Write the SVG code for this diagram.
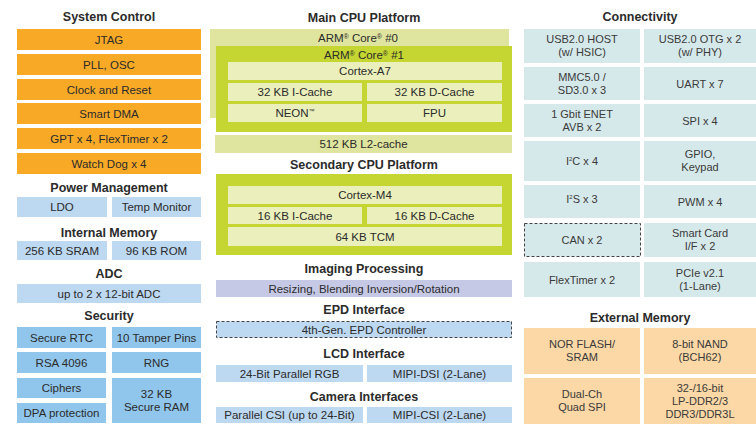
<svg xmlns="http://www.w3.org/2000/svg" width="756" height="433" viewBox="0 0 756 433">
<style>
text{font-family:"Liberation Sans",Arial,sans-serif;fill:#2b2b2b;text-anchor:middle}
.t{font-size:12.5px;font-weight:bold}
.b{font-size:11.5px}
.c{font-size:11px;fill:#3a3a3a}
.or{fill:#f8aa27}
.lb{fill:#bdd8f1}
.sb{fill:#90c6ec}
.c0{fill:#dfe49e}
.c1{fill:#c5d531}
.in{fill:#eaefbb}
.lv{fill:#c6c9e6}
.cn{fill:#d6e9ea}
.em{fill:#fbd8a6}
.dash{stroke:#444;stroke-width:1;stroke-dasharray:3,2}
</style>
<rect width="756" height="433" fill="#ffffff"/>

<!-- System Control -->
<g id="system-control">
<text class="t" x="109" y="21">System Control</text>
<g id="jtag"><rect class="or" x="17" y="29" width="184" height="21"/><text class="b" x="109" y="43.5">JTAG</text></g>
<g id="pll"><rect class="or" x="17" y="54" width="184" height="21"/><text class="b" x="109" y="68.5">PLL, OSC</text></g>
<g id="clock"><rect class="or" x="17" y="79" width="184" height="21"/><text class="b" x="109" y="93.5">Clock and Reset</text></g>
<g id="dma"><rect class="or" x="17" y="103" width="184" height="21"/><text class="b" x="109" y="117.5">Smart DMA</text></g>
<g id="gpt"><rect class="or" x="17" y="128" width="184" height="21"/><text class="b" x="109" y="142.5">GPT x 4, FlexTimer x 2</text></g>
<g id="wdog"><rect class="or" x="17" y="153" width="184" height="21"/><text class="b" x="109" y="167.5">Watch Dog x 4</text></g>
</g>

<g id="power-management">
<text class="t" x="109" y="192">Power Management</text>
<g id="ldo"><rect class="lb" x="17" y="197" width="90" height="20"/><text class="b" x="62" y="211">LDO</text></g>
<g id="temp"><rect class="lb" x="112" y="197" width="89" height="20"/><text class="b" x="156.5" y="211">Temp Monitor</text></g>
</g>

<g id="internal-memory">
<text class="t" x="109" y="237">Internal Memory</text>
<g id="sram"><rect class="lb" x="17" y="241" width="90" height="19"/><text class="b" x="62" y="254.5">256 KB SRAM</text></g>
<g id="rom"><rect class="lb" x="112" y="241" width="89" height="19"/><text class="b" x="156.5" y="254.5">96 KB ROM</text></g>
</g>

<g id="adc">
<text class="t" x="109" y="278">ADC</text>
<g id="adc-box"><rect class="lb" x="17" y="284" width="184" height="19"/><text class="b" x="109" y="297.5">up to 2 x 12-bit ADC</text></g>
</g>

<g id="security">
<text class="t" x="109" y="320">Security</text>
<g id="rtc"><rect class="sb" x="17" y="327" width="89" height="21"/><text class="b" x="61.5" y="341.5">Secure RTC</text></g>
<g id="tamper"><rect class="sb" x="112" y="327" width="89" height="21"/><text class="b" x="156.5" y="341.5">10 Tamper Pins</text></g>
<g id="rsa"><rect class="sb" x="17" y="352" width="89" height="21"/><text class="b" x="61.5" y="366.5">RSA 4096</text></g>
<g id="rng"><rect class="sb" x="112" y="352" width="89" height="21"/><text class="b" x="156.5" y="366.5">RNG</text></g>
<g id="ciphers"><rect class="sb" x="17" y="378" width="89" height="20"/><text class="b" x="61.5" y="392">Ciphers</text></g>
<g id="dpa"><rect class="sb" x="17" y="403" width="89" height="20"/><text class="b" x="61.5" y="417">DPA protection</text></g>
<g id="secram"><rect class="sb" x="112" y="378" width="89" height="45"/><text class="b" x="156.5" y="397.5">32 KB</text><text class="b" x="156.5" y="411">Secure RAM</text></g>
</g>

<!-- Main CPU -->
<g id="main-cpu">
<text class="t" x="364" y="22">Main CPU Platform</text>
<g id="core0"><rect class="c0" x="210" y="29" width="299" height="89"/><text class="b" x="358" y="41.5">ARM<tspan font-size="7" dy="-3">®</tspan><tspan dy="3"> Core</tspan><tspan font-size="7" dy="-3">®</tspan><tspan dy="3"> #0</tspan></text></g>
<g id="core1"><rect class="c1" x="216" y="46" width="296" height="86"/><text class="b" x="364" y="58.5">ARM<tspan font-size="7" dy="-3">®</tspan><tspan dy="3"> Core</tspan><tspan font-size="7" dy="-3">®</tspan><tspan dy="3"> #1</tspan></text></g>
<g id="a7"><rect class="in" x="228" y="62" width="274" height="18"/><text class="b" x="365" y="75">Cortex-A7</text></g>
<g id="a7-icache"><rect class="in" x="228" y="83" width="134" height="18"/><text class="b" x="295" y="96">32 KB I-Cache</text></g>
<g id="a7-dcache"><rect class="in" x="367" y="83" width="135" height="18"/><text class="b" x="434.5" y="96">32 KB D-Cache</text></g>
<g id="neon"><rect class="in" x="228" y="104" width="134" height="18"/><text class="b" x="295" y="117">NEON<tspan font-size="6" dy="-4">™</tspan></text></g>
<g id="fpu"><rect class="in" x="367" y="104" width="135" height="18"/><text class="b" x="434.5" y="117">FPU</text></g>
<g id="l2"><rect class="c0" x="215" y="135" width="297" height="18"/><text class="b" x="363.5" y="148">512 KB L2-cache</text></g>
</g>

<g id="secondary-cpu">
<text class="t" x="364" y="169">Secondary CPU Platform</text>
<rect class="c1" x="216" y="174" width="296" height="81"/>
<g id="m4"><rect class="in" x="228" y="186" width="274" height="18"/><text class="b" x="365" y="199">Cortex-M4</text></g>
<g id="m4-icache"><rect class="in" x="228" y="207" width="134" height="17"/><text class="b" x="295" y="219.5">16 KB I-Cache</text></g>
<g id="m4-dcache"><rect class="in" x="367" y="207" width="135" height="17"/><text class="b" x="434.5" y="219.5">16 KB D-Cache</text></g>
<g id="tcm"><rect class="in" x="228" y="227" width="274" height="19"/><text class="b" x="365" y="240.5">64 KB TCM</text></g>
</g>

<g id="imaging">
<text class="t" x="364" y="273">Imaging Processing</text>
<rect class="lv" x="216" y="280" width="296" height="17"/><text class="b" x="364" y="292.5">Resizing, Blending Inversion/Rotation</text>
</g>

<g id="epd">
<text class="t" x="364" y="314">EPD Interface</text>
<rect class="lb dash" x="216.5" y="321.5" width="295" height="16"/><text class="b" x="364" y="333.5">4th-Gen. EPD Controller</text>
</g>

<g id="lcd">
<text class="t" x="364" y="358">LCD Interface</text>
<g id="rgb"><rect class="lb" x="216" y="365" width="147" height="17"/><text class="b" x="289.5" y="377.5">24-Bit Parallel RGB</text></g>
<g id="dsi"><rect class="lb" x="367" y="365" width="145" height="17"/><text class="b" x="439.5" y="377.5">MIPI-DSI (2-Lane)</text></g>
</g>

<g id="camera">
<text class="t" x="364" y="401">Camera Interfaces</text>
<g id="pcsi"><rect class="lb" x="216" y="407" width="147" height="16"/><text class="b" x="289.5" y="419">Parallel CSI (up to 24-Bit)</text></g>
<g id="mcsi"><rect class="lb" x="367" y="407" width="145" height="16"/><text class="b" x="439.5" y="419">MIPI-CSI (2-Lane)</text></g>
</g>

<!-- Connectivity -->
<g id="connectivity">
<text class="t" x="640" y="21">Connectivity</text>
<g id="usbhost"><rect class="cn" x="524" y="29" width="116" height="34"/><text class="c" x="582" y="43">USB2.0 HOST</text><text class="c" x="582" y="56">(w/ HSIC)</text></g>
<g id="usbotg"><rect class="cn" x="644" y="29" width="112" height="34"/><text class="c" x="700" y="43">USB2.0 OTG x 2</text><text class="c" x="700" y="56">(w/ PHY)</text></g>
<g id="mmc"><rect class="cn" x="524" y="67" width="116" height="33"/><text class="c" x="582" y="80.5">MMC5.0 /</text><text class="c" x="582" y="93.5">SD3.0 x 3</text></g>
<g id="uart"><rect class="cn" x="644" y="67" width="112" height="33"/><text class="c" x="700" y="87.5">UART x 7</text></g>
<g id="enet"><rect class="cn" x="524" y="104" width="116" height="33"/><text class="c" x="582" y="117.5">1 Gbit ENET</text><text class="c" x="582" y="130.5">AVB x 2</text></g>
<g id="spi"><rect class="cn" x="644" y="104" width="112" height="33"/><text class="c" x="700" y="124.5">SPI x 4</text></g>
<g id="i2c"><rect class="cn" x="524" y="141" width="116" height="40"/><text class="c" x="582" y="165">I<tspan font-size="6" dy="-4">2</tspan><tspan dy="4">C x 4</tspan></text></g>
<g id="gpio"><rect class="cn" x="644" y="141" width="112" height="40"/><text class="c" x="700" y="158">GPIO,</text><text class="c" x="700" y="171">Keypad</text></g>
<g id="i2s"><rect class="cn" x="524" y="185" width="116" height="33"/><text class="c" x="582" y="203">I<tspan font-size="6" dy="-4">2</tspan><tspan dy="4">S x 3</tspan></text></g>
<g id="pwm"><rect class="cn" x="644" y="185" width="112" height="33"/><text class="c" x="700" y="205.5">PWM x 4</text></g>
<g id="can"><rect class="cn dash" x="524.5" y="223.5" width="116" height="33"/><text class="c" x="582" y="244">CAN x 2</text></g>
<g id="smartcard"><rect class="cn" x="644" y="223" width="112" height="34"/><text class="c" x="700" y="237">Smart Card</text><text class="c" x="700" y="250">I/F x 2</text></g>
<g id="flextimer"><rect class="cn" x="524" y="262" width="116" height="35"/><text class="c" x="582" y="283.5">FlexTimer x 2</text></g>
<g id="pcie"><rect class="cn" x="644" y="262" width="112" height="35"/><text class="c" x="700" y="276.5">PCIe v2.1</text><text class="c" x="700" y="289.5">(1-Lane)</text></g>
</g>

<g id="external-memory">
<text class="t" x="640" y="322">External Memory</text>
<g id="nor"><rect class="em" x="524" y="328" width="116" height="46"/><text class="c" x="582" y="348">NOR FLASH/</text><text class="c" x="582" y="361">SRAM</text></g>
<g id="nand"><rect class="em" x="644" y="328" width="112" height="46"/><text class="c" x="700" y="348">8-bit NAND</text><text class="c" x="700" y="361">(BCH62)</text></g>
<g id="qspi"><rect class="em" x="524" y="378" width="116" height="46"/><text class="c" x="582" y="398">Dual-Ch</text><text class="c" x="582" y="411">Quad SPI</text></g>
<g id="ddr"><rect class="em" x="644" y="378" width="112" height="46"/><text class="c" x="700" y="391.5">32-/16-bit</text><text class="c" x="700" y="404.5">LP-DDR2/3</text><text class="c" x="700" y="417.5">DDR3/DDR3L</text></g>
</g>
</svg>
